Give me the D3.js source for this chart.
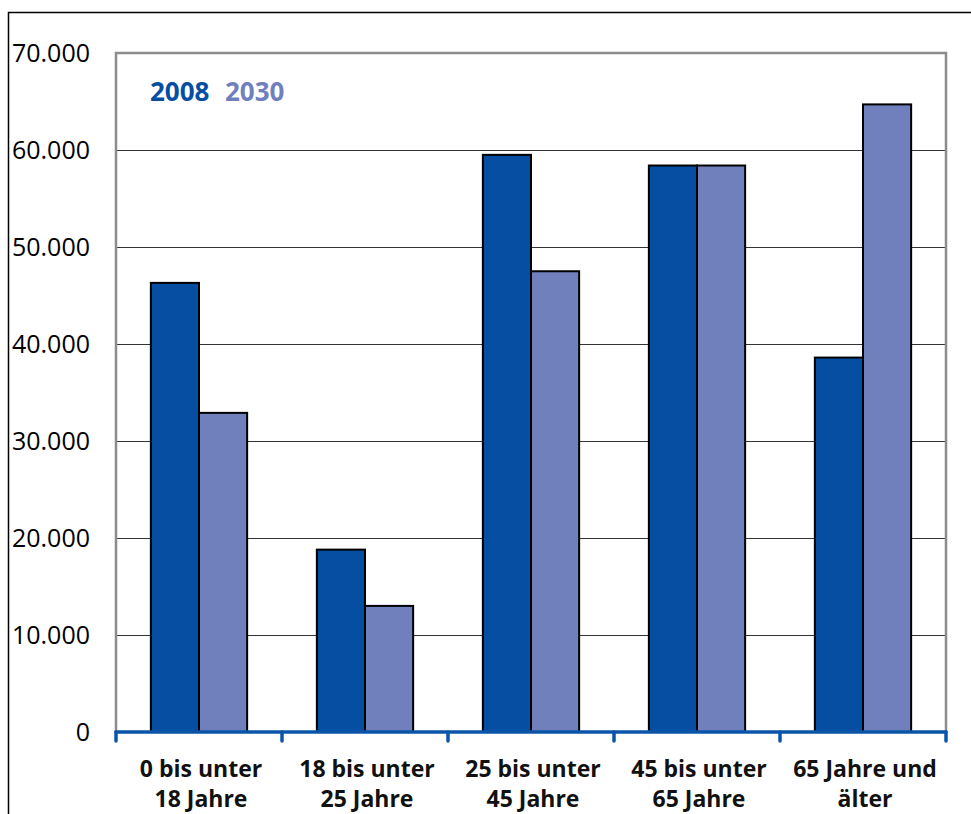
<!DOCTYPE html>
<html>
<head>
<meta charset="utf-8">
<script src="https://cdn.jsdelivr.net/npm/d3@7"></script>
<style>
  html, body { margin: 0; padding: 0; background: #fff; }
  svg { display: block; font-family: "Open Sans", "Noto Sans", sans-serif; }
</style>
</head>
<body>
<div id="chart"></div>
<script>
// data
const categories = [
    ["0 bis unter", "18 Jahre"],
    ["18 bis unter", "25 Jahre"],
    ["25 bis unter", "45 Jahre"],
    ["45 bis unter", "65 Jahre"],
    ["65 Jahre und", "älter"]
];
const series = ["2008", "2030"];
const values2008 = [46300, 18800, 59500, 58400, 38600];
const values2030 = [32900, 13000, 47500, 58400, 64700];
const yTicks = [0, 10000, 20000, 30000, 40000, 50000, 60000, 70000];

const colors = {"2008": "#054ea2", "2030": "#6f80bd"};

let width = 971, height = 814;
let margin = {top: 53, right: 25, bottom: 82, left: 116};
let w = 946 - margin.left, h = 732 - margin.top;

let svg = d3.select("#chart").append("svg")
    .attr("width", width)
    .attr("height", height);

// outer frame (only left and top visible)
svg.append("path")
    .attr("d", "M8.5,814 L8.5,12.5 L971,12.5")
    .attr("fill", "none")
    .attr("stroke", "#000")
    .attr("stroke-width", 1.5);

let g = svg.append("g")
    .attr("transform", "translate(" + margin.left + "," + margin.top + ")");

let x = d3.scaleBand()
    .domain(d3.range(categories.length))
    .range([0, w]);

let x1 = d3.scaleBand()
    .domain(series)
    .range([x.bandwidth() * 0.21, x.bandwidth() * 0.79]);

let y = d3.scaleLinear()
    .domain([0, 70000])
    .range([h, 0]);

// grid lines
g.selectAll(".grid")
    .data(yTicks.filter(d => d > 0 && d < 70000))
    .enter().append("line")
    .attr("x1", 0).attr("x2", w)
    .attr("y1", d => Math.round(y(d)) + 0.5).attr("y2", d => Math.round(y(d)) + 0.5)
    .attr("stroke", "#333")
    .attr("stroke-width", 1);

// plot area border (gray, left/top/right)
g.append("path")
    .attr("d", "M0," + h + " L0,0 L" + w + ",0 L" + w + "," + h)
    .attr("fill", "none")
    .attr("stroke", "#8c8c8c")
    .attr("stroke-width", 2.5);

// y labels
let fmt = d => d === 0 ? "0" : d3.format(",")(d).replace(/,/g, ".");
svg.selectAll(".ylab")
    .data(yTicks)
    .enter().append("text")
    .attr("x", 90)
    .attr("y", d => margin.top + y(d))
    .attr("dy", "0.35em")
    .attr("text-anchor", "end")
    .attr("font-size", 25)
    .attr("fill", "#000")
    .text(fmt);

// bars
let rows = categories.map((c, i) => [
    {s: "2008", v: values2008[i]},
    {s: "2030", v: values2030[i]}
]);

let groups = g.selectAll(".grp")
    .data(rows)
    .enter().append("g")
    .attr("transform", (d, i) => "translate(" + x(i) + ",0)");

groups.selectAll("rect")
    .data(d => d)
    .enter().append("rect")
    .attr("x", d => x1(d.s))
    .attr("width", x1.bandwidth())
    .attr("y", d => y(d.v))
    .attr("height", d => h - y(d.v))
    .attr("fill", d => colors[d.s])
    .attr("stroke", "#000")
    .attr("stroke-width", 2);

// x axis line with ticks (blue)
let axisG = g.append("g")
    .attr("transform", "translate(0," + h + ")");
axisG.append("line")
    .attr("x1", 0).attr("x2", w)
    .attr("y1", 0).attr("y2", 0)
    .attr("stroke", "#0b55a8")
    .attr("stroke-width", 3.5)
    .attr("stroke-linecap", "round");
axisG.selectAll(".tk")
    .data(d3.range(categories.length + 1))
    .enter().append("line")
    .attr("x1", d => d * x.step()).attr("x2", d => d * x.step())
    .attr("y1", 0).attr("y2", 9)
    .attr("stroke", "#0b55a8")
    .attr("stroke-width", 3.5)
    .attr("stroke-linecap", "round");

// category labels
let labs = g.selectAll(".xlab")
    .data(categories)
    .enter().append("text")
    .attr("x", (d, i) => x(i) + x.bandwidth() / 2 + 2)
    .attr("y", h + 45)
    .attr("text-anchor", "middle")
    .attr("font-size", 23)
    .attr("font-weight", "bold")
    .attr("fill", "#111");
labs.selectAll("tspan")
    .data(d => d)
    .enter().append("tspan")
    .attr("x", function() { return d3.select(this.parentNode).attr("x"); })
    .attr("dy", (d, i) => i === 0 ? 0 : 30)
    .text(d => d);

// legend
let legX = [150, 225];
svg.selectAll(".leg")
    .data(series)
    .enter().append("text")
    .attr("x", (d, i) => legX[i])
    .attr("y", 101)
    .attr("font-size", 26)
    .attr("font-weight", "bold")
    .attr("fill", d => colors[d])
    .text(d => d);
</script>
</body>
</html>
